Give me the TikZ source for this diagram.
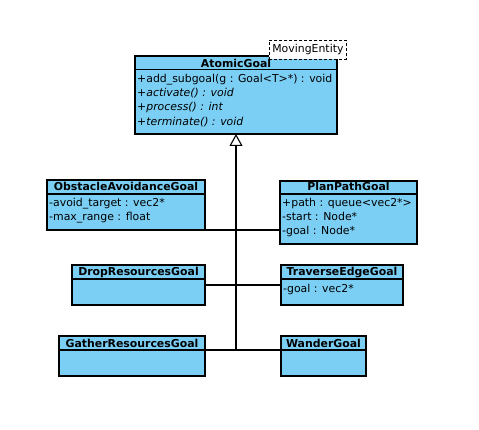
\documentclass[tikz,border=0pt]{standalone}
\usepackage{fontspec}
\setmainfont{DejaVu Sans}[BoldFont={DejaVu Sans Bold},ItalicFont={DejaVu Sans Oblique}]
\usetikzlibrary{arrows.meta}
\definecolor{umlblue}{RGB}{123,207,245}
\newcommand\umlfont{\fontsize{10.9pt}{13pt}\selectfont}
\tikzset{
  cls/.style={draw, fill=umlblue, line width=1.1pt, inner sep=0pt, outer sep=0pt, anchor=north west},
  ttl/.style={font=\umlfont\bfseries, anchor=base, inner sep=0pt},
  att/.style={font=\umlfont, anchor=base west, inner sep=0pt},
  ln/.style={line width=1.1pt, draw=black},
}
\begin{document}
\begin{tikzpicture}[x=1pt,y=-1pt]
\fill[white] (0,0) rectangle (479,430);
\useasboundingbox (0,0) rectangle (479,430);

% AtomicGoal
\node[cls, minimum width=202pt, minimum height=78pt] (atomic) at (135,56) {};
\draw[ln] ([yshift=-13.5pt]atomic.north west) -- ([yshift=-13.5pt]atomic.north east);
\node[ttl] (atomicT) at (236,67.5) {AtomicGoal};
\node[att] (at1) at (137,82.5) {+add\_subgoal(g : Goal<T>*) : void};
\node[att] (at2) at (137,96.7) {\itshape +activate() : void};
\node[att] (at3) at (137,110.9) {\itshape +process() : int};
\node[att] (at4) at (137,125.1) {\itshape +terminate() : void};
\node[draw, dashed, dash pattern=on 3pt off 2pt, line width=0.8pt, fill=white, minimum width=77pt, minimum height=19pt, inner sep=0pt, anchor=north west, font=\umlfont] (moving) at (269,40) {MovingEntity};

% ObstacleAvoidanceGoal
\node[cls, minimum width=158pt, minimum height=50pt] (obst) at (47,180) {};
\draw[ln] ([yshift=-14pt]obst.north west) -- ([yshift=-14pt]obst.north east);
\node[ttl] (obstT) at (126,190.5) {ObstacleAvoidanceGoal};
\node[att] (ob1) at (49,207) {-avoid\_target : vec2*};
\node[att] (ob2) at (49,221) {-max\_range : float};

% PlanPathGoal
\node[cls, minimum width=137pt, minimum height=63pt] (plan) at (280,181) {};
\draw[ln] ([yshift=-13pt]plan.north west) -- ([yshift=-13pt]plan.north east);
\node[ttl] (planT) at (348.5,190.5) {PlanPathGoal};
\node[att] (pl1) at (282,206.5) {+path : queue<vec2*>};
\node[att] (pl2) at (282,220.5) {-start : Node*};
\node[att] (pl3) at (282,234.5) {-goal : Node*};

% DropResourcesGoal
\node[cls, minimum width=133pt, minimum height=40pt] (drop) at (72,265) {};
\draw[ln] ([yshift=-14pt]drop.north west) -- ([yshift=-14pt]drop.north east);
\node[ttl] (dropT) at (138.5,276) {DropResourcesGoal};

% TraverseEdgeGoal
\node[cls, minimum width=122pt, minimum height=40pt] (trav) at (281,265) {};
\draw[ln] ([yshift=-14pt]trav.north west) -- ([yshift=-14pt]trav.north east);
\node[ttl] (travT) at (342,276) {TraverseEdgeGoal};
\node[att] (tr1) at (283,292) {-goal : vec2*};

% GatherResourcesGoal
\node[cls, minimum width=146pt, minimum height=40pt] (gather) at (59,336) {};
\draw[ln] ([yshift=-14pt]gather.north west) -- ([yshift=-14pt]gather.north east);
\node[ttl] (gatherT) at (132,347) {GatherResourcesGoal};

% WanderGoal
\node[cls, minimum width=85pt, minimum height=40pt] (wander) at (281,336) {};
\draw[ln] ([yshift=-14pt]wander.north west) -- ([yshift=-14pt]wander.north east);
\node[ttl] (wanderT) at (323.5,347) {WanderGoal};

% connectors
\coordinate (hub) at (236,350);
\draw[ln, -{Triangle[open, length=12pt, width=13pt, line width=1.1pt]}] (hub) -- (atomic.south);
\draw[ln] (obst.south east) -- (obst.south east -| plan.west);
\draw[ln] (drop.east) -- (drop.east -| trav.west);
\coordinate (gl) at ([yshift=-14pt]gather.north east);
\draw[ln] (gl) -- (gl -| wander.west);
\end{tikzpicture}
\end{document}
